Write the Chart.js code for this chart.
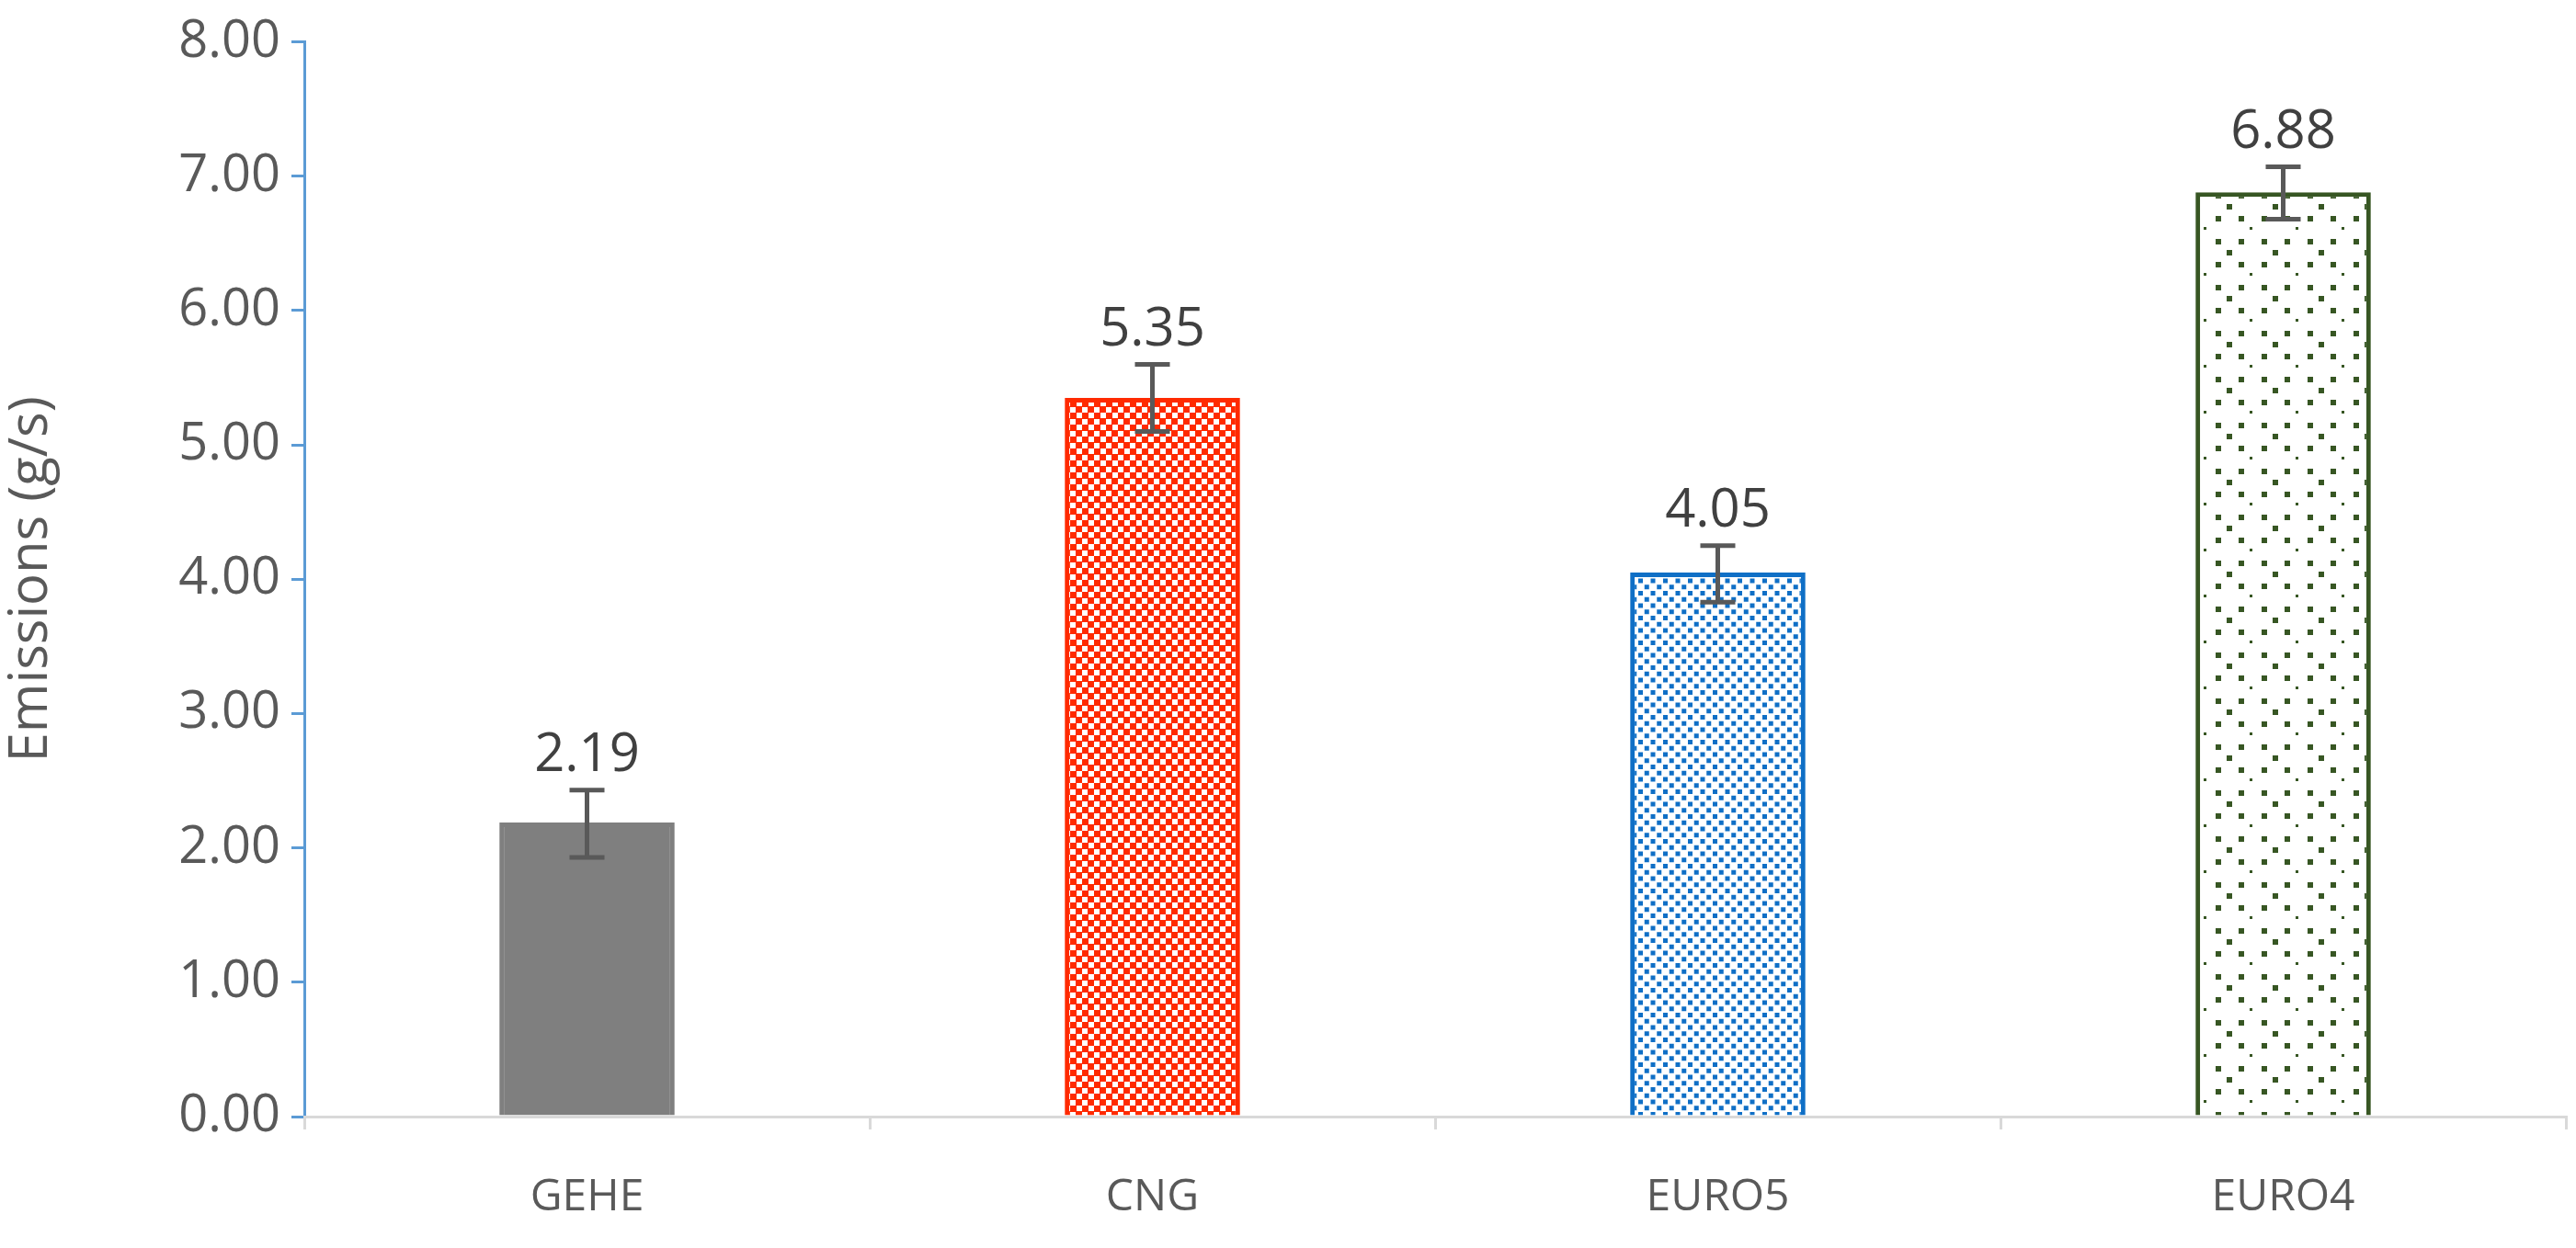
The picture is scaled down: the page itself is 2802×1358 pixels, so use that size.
<!DOCTYPE html>
<html><head><meta charset="utf-8">
<script src="https://cdn.jsdelivr.net/npm/chart.js@4"></script>
<style>html,body{margin:0;padding:0;background:#fff}#wrap{width:2802px;height:1358px}</style>
</head><body><div id="wrap"><canvas id="c"></canvas></div>
<script>
const categories = ['GEHE','CNG','EURO5','EURO4'];
const values = [2.19, 5.35, 4.05, 6.88];
const errLow = [1.93, 5.10, 3.83, 6.68];
const errHigh = [2.43, 5.60, 4.25, 7.07];
const yTicks = [0,1,2,3,4,5,6,7,8];

const ctx0=document.getElementById('c').getContext('2d');
function pat(kind){
  const c=document.createElement('canvas'); const x=c.getContext('2d');
  if(kind==='check'){c.width=c.height=26;x.fillStyle='#FF2A00';x.fillRect(0,0,26,26);x.fillStyle='#fff';
    [[6,0],[0,6],[13,6],[6,13],[19,13],[13,19],[0,19],[19,0]].forEach(p=>x.fillRect(p[0]+1,p[1]+1,6,6));}
  else if(kind==='diag'){c.width=c.height=27;x.fillStyle='#fff';x.fillRect(0,0,27,27);x.fillStyle='#0F6FC6';
    for(let k=-27;k<=27;k+=13.5)for(let i=0;i<27;i+=6.75){x.fillRect(i,27-i+k-5,5,5);} }
  else {c.width=c.height=50;x.fillStyle='#fff';x.fillRect(0,0,50,50);x.fillStyle='#375623';
    for(let i=0;i<50;i+=25)for(let j=0;j<50;j+=25)x.fillRect(i+10,j+10,6,6);
    x.fillRect(22,22,6,6);x.fillRect(47,47,6,6);x.fillRect(47,-3,3,3);}
  return ctx0.createPattern(c,'repeat');
}
const fills=['#7F7F7F',pat('check'),pat('diag'),pat('dots')];
const borders=['#7F7F7F','#FF2A00','#0F6FC6','#375623'];

const overlay={id:'ov',afterDatasetsDraw(ch){
  const c=ch.ctx,y=ch.scales.y,meta=ch.getDatasetMeta(0);
  c.save();c.strokeStyle='#595959';c.lineWidth=5;
  meta.data.forEach((b,i)=>{const x=b.x,y1=y.getPixelForValue(errLow[i]),y2=y.getPixelForValue(errHigh[i]);
    c.beginPath();c.moveTo(x,y1);c.lineTo(x,y2);c.moveTo(x-19,y1);c.lineTo(x+19,y1);c.moveTo(x-19,y2);c.lineTo(x+19,y2);c.stroke();
    c.fillStyle='#404040';c.font='58px "Open Sans", sans-serif';c.textAlign='center';c.textBaseline='bottom';
    c.fillText(values[i].toFixed(2),x,y2-8);});
  c.restore();}};

new Chart(ctx0,{type:'bar',
 data:{labels:categories,datasets:[{data:values,backgroundColor:fills,borderColor:borders,borderWidth:5,barPercentage:0.31,categoryPercentage:1}]},
 options:{responsive:true,maintainAspectRatio:false,animation:false,
  layout:{padding:{top:0,right:11,left:0,bottom:0}},
  plugins:{legend:{display:false},tooltip:{enabled:false}},
  scales:{
   y:{min:0,max:8,afterBuildTicks(s){s.ticks=yTicks.map(v=>({value:v}));},
      afterFit(s){s.width=331;},
      ticks:{color:'#595959',font:{size:56,family:'"Open Sans", sans-serif'},padding:12,callback:v=>v.toFixed(2)},
      grid:{drawOnChartArea:false,color:'#5B9BD5',tickLength:14,lineWidth:3},
      border:{color:'#5B9BD5',width:3},
      title:{display:true,text:'Emissions (g/s)',color:'#595959',font:{size:58,family:'"Open Sans", sans-serif'},padding:0}},
   x:{afterFit(s){s.height=143;},
      ticks:{color:'#595959',font:{size:48,family:'"Open Sans", sans-serif'},padding:46},
      grid:{drawOnChartArea:false,offset:true,color:'#D9D9D9',tickLength:14,lineWidth:3},
      border:{color:'#D9D9D9',width:3}}}},
 plugins:[overlay]});
</script></body></html>
